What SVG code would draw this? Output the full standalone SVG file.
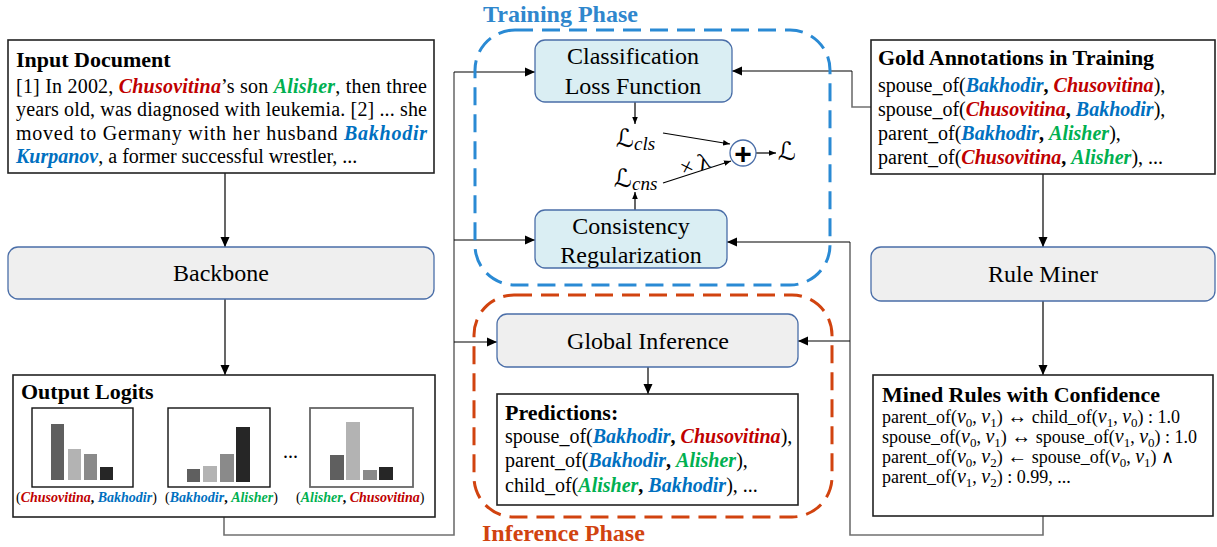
<svg xmlns="http://www.w3.org/2000/svg" width="1217" height="547" viewBox="0 0 1217 547">
<style>
.t{font-family:"Liberation Serif","Times New Roman",serif;fill:#000}
.b{font-weight:bold}
.bi{font-weight:bold;font-style:italic}
.i{font-style:italic}
.red{fill:#c00000}.grn{fill:#00b050}.blu{fill:#0070c0}
.f20{font-size:20px}.f22{font-size:22px}.f24{font-size:24px}.f14{font-size:14px}.f18{font-size:18px}
.v{font-style:italic;font-size:20px}
.s{font-size:13px}
.box{fill:#fff;stroke:#222;stroke-width:1.6}
.rbox{fill:#efefef;stroke:#4a6ea8;stroke-width:1.3}
.lbox{fill:#daeef3;stroke:#4a6ea8;stroke-width:1.3}
.ln{fill:none;stroke:#000;stroke-width:1.2}
.gl{fill:none;stroke:#707070;stroke-width:1.6}
.math{font-family:"DejaVu Serif","DejaVu Sans",serif}
</style>
<defs>
<marker id="ah" viewBox="0 0 10 10" refX="10" refY="5" markerWidth="11" markerHeight="10" markerUnits="userSpaceOnUse" orient="auto"><path d="M0,0.5 L10,5 L0,9.5 z" fill="#000"/></marker>
<marker id="as" viewBox="0 0 10 10" refX="10" refY="5" markerWidth="7" markerHeight="7" markerUnits="userSpaceOnUse" orient="auto"><path d="M0,1 L10,5 L0,9 z" fill="#000"/></marker>
</defs>

<g id="connectors">
  <line class="ln" x1="225" y1="173" x2="225" y2="247" marker-end="url(#ah)"/>
  <line class="ln" x1="225" y1="299" x2="225" y2="375" marker-end="url(#ah)"/>
  <line class="ln" x1="1043" y1="174" x2="1043" y2="247" marker-end="url(#ah)"/>
  <line class="ln" x1="1043" y1="301" x2="1043" y2="375" marker-end="url(#ah)"/>
  <path class="gl" d="M224,517 V535 H454 V72"/>
  <line class="ln" x1="454" y1="72" x2="535" y2="72" marker-end="url(#ah)"/>
  <line class="ln" x1="454" y1="240" x2="535" y2="240" marker-end="url(#ah)"/>
  <line class="ln" x1="454" y1="342" x2="497" y2="342" marker-end="url(#ah)"/>
  <path class="gl" d="M1043,516 V535 H850 V242"/>
  <line class="ln" x1="850" y1="242" x2="727" y2="242" marker-end="url(#ah)"/>
  <line class="ln" x1="850" y1="341" x2="798" y2="341" marker-end="url(#ah)"/>
  <path class="gl" d="M871,107 H852 V71"/>
  <line class="ln" x1="852" y1="71" x2="732" y2="71" marker-end="url(#ah)"/>
  <line class="ln" x1="635" y1="102" x2="635" y2="124" marker-end="url(#as)"/>
  <line class="ln" x1="635" y1="210" x2="635" y2="192" marker-end="url(#as)"/>
  <line class="ln" x1="663" y1="133" x2="730" y2="144" marker-end="url(#as)"/>
  <line class="ln" x1="663" y1="183" x2="731" y2="161" marker-end="url(#as)"/>
  <line class="ln" x1="756" y1="153" x2="776" y2="153" marker-end="url(#as)"/>
  <line class="ln" x1="648" y1="367" x2="648" y2="394" marker-end="url(#ah)"/>
</g>

<g id="training-phase">
  <rect x="475" y="30" width="355" height="255" rx="40" fill="none" stroke="#2a8ad4" stroke-width="3" stroke-dasharray="18 9"/>
  <text class="t b f24" x="483" y="22" style="fill:#2f87cd">Training Phase</text>
</g>
<g id="inference-phase">
  <rect x="474" y="295" width="358" height="222" rx="40" fill="none" stroke="#d1430f" stroke-width="3" stroke-dasharray="18 9"/>
  <text class="t b f24" x="482" y="541" style="fill:#d1430f">Inference Phase</text>
</g>

<g id="input-document">
  <rect class="box" x="8" y="40" width="426" height="133"/>
  <text class="t b f22" x="16" y="67">Input Document</text>
  <text class="t f20" x="16" y="93" textLength="411" lengthAdjust="spacing">[1] In 2002, <tspan class="bi red">Chusovitina</tspan>’s son <tspan class="bi grn">Alisher</tspan>, then three</text>
  <text class="t f20" x="16" y="116" textLength="411" lengthAdjust="spacing">years old, was diagnosed with leukemia. [2] ... she</text>
  <text class="t f20" x="16" y="140" textLength="411" lengthAdjust="spacing">moved to Germany with her husband <tspan class="bi blu">Bakhodir</tspan></text>
  <text class="t f20" x="16" y="163"><tspan class="bi blu">Kurpanov</tspan>, a former successful wrestler, ...</text>
</g>

<g id="backbone">
  <rect class="rbox" x="8" y="247" width="426" height="52" rx="10"/>
  <text class="t f24" x="221" y="281" text-anchor="middle">Backbone</text>
</g>

<g id="output-logits">
  <rect class="box" x="13" y="375" width="422" height="142"/>
  <text class="t b f22" x="21" y="399">Output Logits</text>
  <rect x="32" y="408" width="101" height="79" fill="#fff" stroke="#111" stroke-width="1.4"/>
  <rect x="51" y="424" width="13" height="56" fill="#5f5f5f"/>
  <rect x="68" y="449" width="13" height="31" fill="#b3b3b3"/>
  <rect x="84" y="454" width="13" height="26" fill="#8a8a8a"/>
  <rect x="100" y="467" width="13" height="13" fill="#262626"/>
  <rect x="168" y="408" width="102" height="79" fill="#fff" stroke="#111" stroke-width="1.4"/>
  <rect x="187" y="469" width="13" height="13" fill="#5f5f5f"/>
  <rect x="203" y="466" width="14" height="16" fill="#b3b3b3"/>
  <rect x="220" y="454" width="14" height="28" fill="#8a8a8a"/>
  <rect x="236" y="427" width="14" height="55" fill="#262626"/>
  <text class="t f20" x="283" y="458">...</text>
  <rect x="310" y="408" width="103" height="79" fill="#fff" stroke="#666" stroke-width="1.8"/>
  <rect x="330" y="455" width="14" height="25" fill="#5f5f5f"/>
  <rect x="346" y="422" width="14" height="58" fill="#b3b3b3"/>
  <rect x="363" y="470" width="14" height="10" fill="#8a8a8a"/>
  <rect x="379" y="467" width="14" height="13" fill="#262626"/>
  <text class="t f14" x="16" y="502">(<tspan class="bi red">Chusovitina</tspan><tspan class="b">, </tspan><tspan class="bi blu">Bakhodir</tspan>)</text>
  <text class="t f14" x="165" y="502">(<tspan class="bi blu">Bakhodir</tspan><tspan class="b">, </tspan><tspan class="bi grn">Alisher</tspan>)</text>
  <text class="t f14" x="296" y="502">(<tspan class="bi grn">Alisher</tspan><tspan class="b">, </tspan><tspan class="bi red">Chusovitina</tspan>)</text>
</g>

<g id="classification-loss">
  <rect class="lbox" x="535" y="40" width="197" height="62" rx="10"/>
  <text class="t f24" x="633" y="64" text-anchor="middle">Classification</text>
  <text class="t f24" x="633" y="94" text-anchor="middle">Loss Function</text>
</g>
<g id="consistency-regularization">
  <rect class="lbox" x="535" y="210" width="192" height="58" rx="10"/>
  <text class="t f24" x="631" y="234" text-anchor="middle">Consistency</text>
  <text class="t f24" x="631" y="263" text-anchor="middle">Regularization</text>
</g>
<g id="loss-terms">
  <text x="616" y="147"><tspan class="math" font-size="25">ℒ</tspan><tspan class="t i" font-size="19" dy="3">cls</tspan></text>
  <text x="614" y="187"><tspan class="math" font-size="25">ℒ</tspan><tspan class="t i" font-size="19" dy="3">cns</tspan></text>
  <text class="t" font-size="23" x="695" y="172" text-anchor="middle" transform="rotate(-18 695 165)">× λ</text>
</g>
<g id="sum">
  <circle cx="743" cy="153" r="13" fill="#fff" stroke="#4a6ea8" stroke-width="1.3"/>
  <text x="743" y="164" text-anchor="middle" font-family="Liberation Sans, Arial, sans-serif" font-weight="bold" font-size="30">+</text>
  <text class="math" x="778" y="160" font-size="25">ℒ</text>
</g>

<g id="global-inference">
  <rect class="rbox" x="497" y="314" width="301" height="53" rx="10"/>
  <text class="t f24" x="648" y="349" text-anchor="middle">Global Inference</text>
</g>
<g id="predictions">
  <rect class="box" x="497" y="394" width="301" height="111"/>
  <text class="t b f22" x="505" y="420">Predictions:</text>
  <text class="t f20" x="505" y="443">spouse_of(<tspan class="bi blu">Bakhodir</tspan><tspan class="b">, </tspan><tspan class="bi red">Chusovitina</tspan>),</text>
  <text class="t f20" x="505" y="467">parent_of(<tspan class="bi blu">Bakhodir</tspan><tspan class="b">, </tspan><tspan class="bi grn">Alisher</tspan>),</text>
  <text class="t f20" x="505" y="492">child_of(<tspan class="bi grn">Alisher</tspan><tspan class="b">, </tspan><tspan class="bi blu">Bakhodir</tspan>), ...</text>
</g>

<g id="gold-annotations">
  <rect class="box" x="871" y="40" width="344" height="134"/>
  <text class="t b f22" x="878" y="65">Gold Annotations in Training</text>
  <text class="t f20" x="878" y="92">spouse_of(<tspan class="bi blu">Bakhodir</tspan><tspan class="b">, </tspan><tspan class="bi red">Chusovitina</tspan>),</text>
  <text class="t f20" x="878" y="116">spouse_of(<tspan class="bi red">Chusovitina</tspan><tspan class="b">, </tspan><tspan class="bi blu">Bakhodir</tspan>),</text>
  <text class="t f20" x="878" y="140">parent_of(<tspan class="bi blu">Bakhodir</tspan><tspan class="b">, </tspan><tspan class="bi grn">Alisher</tspan>),</text>
  <text class="t f20" x="878" y="164">parent_of(<tspan class="bi red">Chusovitina</tspan><tspan class="b">, </tspan><tspan class="bi grn">Alisher</tspan>), ...</text>
</g>

<g id="rule-miner">
  <rect class="rbox" x="871" y="247" width="344" height="54" rx="10"/>
  <text class="t f24" x="1043" y="282" text-anchor="middle">Rule Miner</text>
</g>

<g id="mined-rules">
  <rect class="box" x="873" y="375" width="340" height="141"/>
  <text class="t b f22" x="882" y="402">Mined Rules with Confidence</text>
  <text class="t f18" x="882" y="423">parent_of(<tspan class="v">v</tspan><tspan class="s" baseline-shift="-4">0</tspan>, <tspan class="v">v</tspan><tspan class="s" baseline-shift="-4">1</tspan>) <tspan font-size="20">↔</tspan> child_of(<tspan class="v">v</tspan><tspan class="s" baseline-shift="-4">1</tspan>, <tspan class="v">v</tspan><tspan class="s" baseline-shift="-4">0</tspan>) : 1.0</text>
  <text class="t f18" x="882" y="443">spouse_of(<tspan class="v">v</tspan><tspan class="s" baseline-shift="-4">0</tspan>, <tspan class="v">v</tspan><tspan class="s" baseline-shift="-4">1</tspan>) <tspan font-size="20">↔</tspan> spouse_of(<tspan class="v">v</tspan><tspan class="s" baseline-shift="-4">1</tspan>, <tspan class="v">v</tspan><tspan class="s" baseline-shift="-4">0</tspan>) : 1.0</text>
  <text class="t f18" x="882" y="463">parent_of(<tspan class="v">v</tspan><tspan class="s" baseline-shift="-4">0</tspan>, <tspan class="v">v</tspan><tspan class="s" baseline-shift="-4">2</tspan>) <tspan font-size="20">←</tspan> spouse_of(<tspan class="v">v</tspan><tspan class="s" baseline-shift="-4">0</tspan>, <tspan class="v">v</tspan><tspan class="s" baseline-shift="-4">1</tspan>)  ∧</text>
  <text class="t f18" x="882" y="483">parent_of(<tspan class="v">v</tspan><tspan class="s" baseline-shift="-4">1</tspan>, <tspan class="v">v</tspan><tspan class="s" baseline-shift="-4">2</tspan>) : 0.99, ...</text>
</g>
</svg>
